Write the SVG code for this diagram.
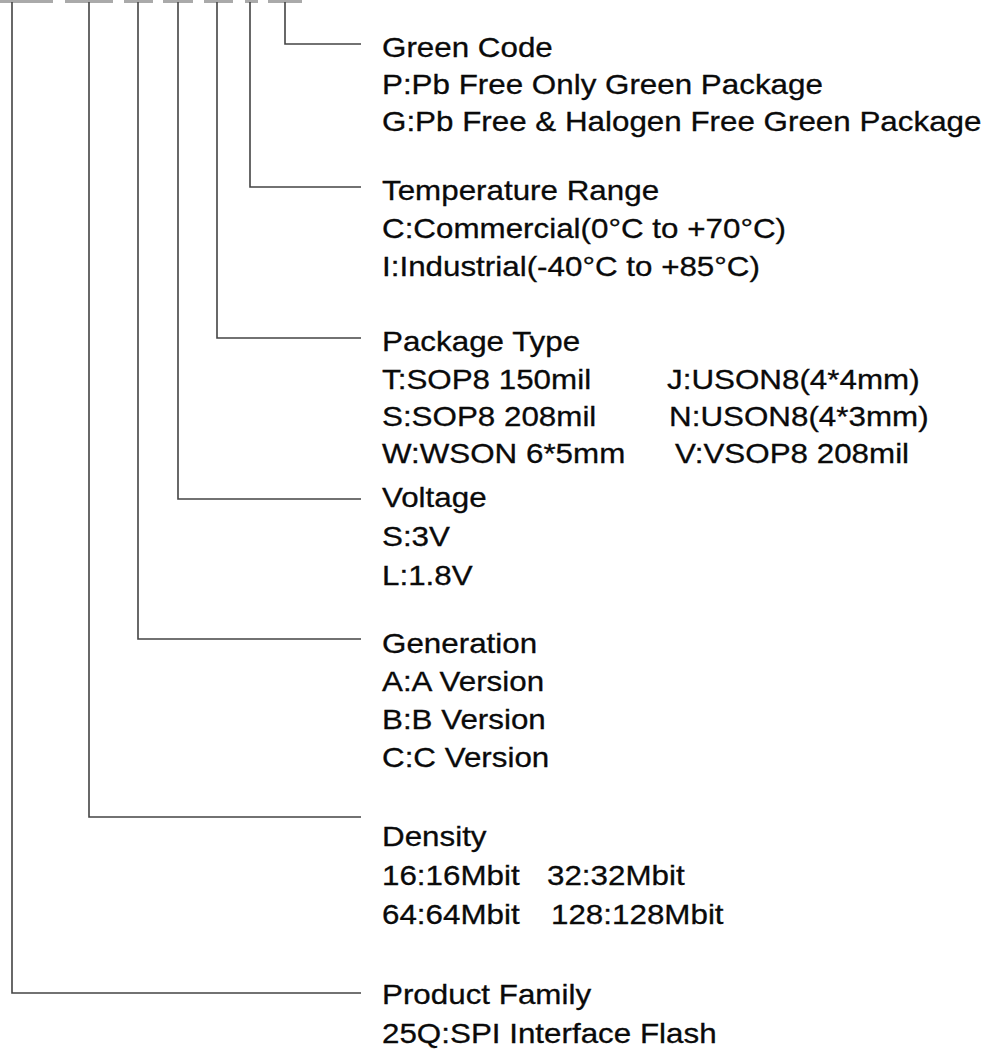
<svg xmlns="http://www.w3.org/2000/svg" width="998" height="1050" viewBox="0 0 998 1050">
<style>
text{font-family:"Liberation Sans",Arial,sans-serif;font-size:28px;fill:#0a0a0a;stroke:#0a0a0a;stroke-width:0.3px}
.dash{fill:#aaa}
.ln{stroke:#444;stroke-width:1.6;fill:none}
</style>
<rect width="998" height="1050" fill="#fff"/>
<g id="code-dashes">
<rect class="dash" x="0" y="0" width="53" height="3"/>
<rect class="dash" x="65" y="0" width="48" height="3"/>
<rect class="dash" x="124" y="0" width="29" height="3"/>
<rect class="dash" x="163" y="0" width="30" height="3"/>
<rect class="dash" x="204" y="0" width="29" height="3"/>
<rect class="dash" x="245" y="0" width="13" height="3"/>
<rect class="dash" x="268" y="0" width="34" height="3"/>
</g>
<g id="connectors">
<path class="ln" d="M285 2V44H361"/>
<path class="ln" d="M250 2V187H361"/>
<path class="ln" d="M217 2V338H361"/>
<path class="ln" d="M178 2V499H361"/>
<path class="ln" d="M138 2V639H361"/>
<path class="ln" d="M89 2V817H361"/>
<path class="ln" d="M12 2V993H361"/>
</g>
<g transform="translate(382 0) scale(1.12 1)">
<g id="green-code">
<text x="0" y="57">Green Code</text>
<text x="0" y="94">P:Pb Free Only Green Package</text>
<text x="0" y="131">G:Pb Free &amp; Halogen Free Green Package</text>
</g>
<g id="temperature-range">
<text x="0" y="200">Temperature Range</text>
<text x="0" y="238">C:Commercial(0°C to +70°C)</text>
<text x="0" y="276">I:Industrial(-40°C to +85°C)</text>
</g>
<g id="package-type">
<text x="0" y="351">Package Type</text>
<text x="0" y="389">T:SOP8 150mil</text>
<text x="254.5" y="389">J:USON8(4*4mm)</text>
<text x="0" y="426">S:SOP8 208mil</text>
<text x="256.3" y="426">N:USON8(4*3mm)</text>
<text x="0" y="463">W:WSON 6*5mm</text>
<text x="261.6" y="463">V:VSOP8 208mil</text>
</g>
<g id="voltage">
<text x="0" y="507">Voltage</text>
<text x="0" y="546">S:3V</text>
<text x="0" y="585">L:1.8V</text>
</g>
<g id="generation">
<text x="0" y="653">Generation</text>
<text x="0" y="691">A:A Version</text>
<text x="0" y="729">B:B Version</text>
<text x="0" y="767">C:C Version</text>
</g>
<g id="density">
<text x="0" y="846">Density</text>
<text x="0" y="885">16:16Mbit</text>
<text x="147.3" y="885">32:32Mbit</text>
<text x="0" y="924">64:64Mbit</text>
<text x="150.9" y="924">128:128Mbit</text>
</g>
<g id="product-family">
<text x="0" y="1004">Product Family</text>
<text x="0" y="1043">25Q:SPI Interface Flash</text>
</g>
</g>
</svg>
